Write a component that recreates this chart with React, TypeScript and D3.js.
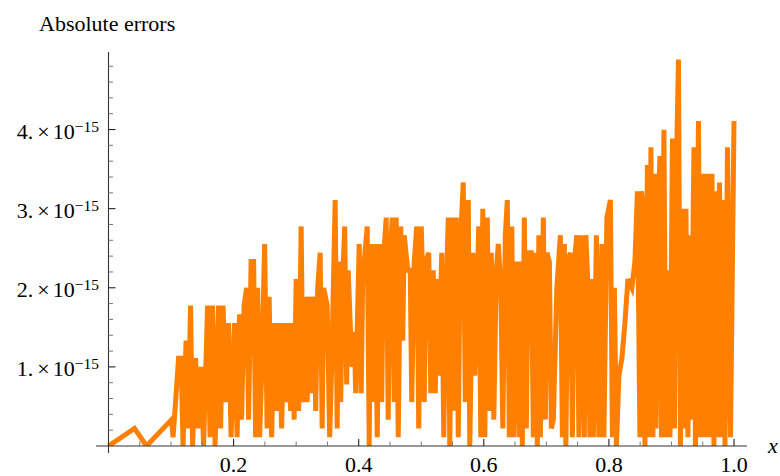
import React from "react";
import * as d3 from "d3";

// Sample abscissae of the adaptive plot
const sampleX = [
  0, 0.0416, 0.0608, 0.1008, 0.1032, 0.1072, 0.112, 0.116,
  0.1192, 0.124, 0.1272, 0.1312, 0.1344, 0.1392, 0.1432, 0.148,
  0.152, 0.1584, 0.1624, 0.1664, 0.1704, 0.176, 0.1792, 0.1832,
  0.1872, 0.192, 0.196, 0.2016, 0.2056, 0.2096, 0.2128, 0.2168,
  0.2208, 0.224, 0.228, 0.232, 0.2352, 0.2384, 0.2416, 0.2448,
  0.2496, 0.2536, 0.2568, 0.2608, 0.2648, 0.2688, 0.2728, 0.2768,
  0.2808, 0.284, 0.288, 0.2912, 0.2944, 0.2968, 0.3, 0.304,
  0.308, 0.3112, 0.3144, 0.3176, 0.3216, 0.3248, 0.3288, 0.3312,
  0.3344, 0.3384, 0.3416, 0.344, 0.3496, 0.3536, 0.3568, 0.3624,
  0.3656, 0.368, 0.3712, 0.3744, 0.3776, 0.3808, 0.3832, 0.3864,
  0.3896, 0.3928, 0.3952, 0.4008, 0.404, 0.4064, 0.4136, 0.4168,
  0.4192, 0.4224, 0.4264, 0.4296, 0.4336, 0.4368, 0.4392, 0.444,
  0.4472, 0.4496, 0.4536, 0.4568, 0.46, 0.4632, 0.4672, 0.4704,
  0.4728, 0.4784, 0.4824, 0.4848, 0.4888, 0.4928, 0.496, 0.5,
  0.5024, 0.5048, 0.5072, 0.512, 0.5152, 0.5192, 0.5224, 0.5256,
  0.528, 0.5328, 0.536, 0.5392, 0.5432, 0.5456, 0.5496, 0.5528,
  0.556, 0.5592, 0.5624, 0.5672, 0.5704, 0.5752, 0.5776, 0.5824,
  0.5856, 0.588, 0.592, 0.5952, 0.5984, 0.6016, 0.6056, 0.6088,
  0.612, 0.616, 0.62, 0.6232, 0.6272, 0.6304, 0.6344, 0.6376,
  0.6408, 0.6448, 0.648, 0.6528, 0.6568, 0.6592, 0.6616, 0.6648,
  0.668, 0.6712, 0.676, 0.6792, 0.6824, 0.6856, 0.688, 0.6904,
  0.6952, 0.6984, 0.7008, 0.7048, 0.708, 0.7112, 0.7168, 0.7224,
  0.7256, 0.7288, 0.7312, 0.7344, 0.7384, 0.7416, 0.7448, 0.7488,
  0.752, 0.7568, 0.7608, 0.7632, 0.7672, 0.7696, 0.7728, 0.7752,
  0.78, 0.784, 0.7888, 0.792, 0.7968, 0.8024, 0.8056, 0.8088,
  0.812, 0.816, 0.8208, 0.8256, 0.8304, 0.8368, 0.8416, 0.8456,
  0.8496, 0.852, 0.8552, 0.8576, 0.8616, 0.8648, 0.8672, 0.8704,
  0.8728, 0.8752, 0.8784, 0.8816, 0.884, 0.888, 0.8912, 0.8944,
  0.8976, 0.9016, 0.9048, 0.9072, 0.9112, 0.9144, 0.9176, 0.9208,
  0.9232, 0.9264, 0.9288, 0.9312, 0.9328, 0.936, 0.9384, 0.9432,
  0.9464, 0.9504, 0.9536, 0.9576, 0.9608, 0.9648, 0.968, 0.9704,
  0.9728, 0.9768, 0.98, 0.9832, 0.9856, 0.9896, 0.9944, 1.0,
];

// Absolute error at each sample, in units of 2^-53
const errorUlps = [
  0, 2, 0, 3, 1, 5, 10, 10,
  0, 12, 2, 16, 0, 10, 2, 9,
  0, 16, 1, 16, 0, 16, 2, 16,
  5, 14, 1, 14, 1, 15, 3, 16,
  18, 3, 21, 21, 1, 18, 1, 8,
  23, 2, 17, 1, 14, 4, 14, 2,
  14, 5, 14, 4, 14, 3, 19, 4,
  25, 5, 17, 5, 17, 6, 17, 4,
  18, 22, 2, 18, 16, 1, 9, 28,
  2, 21, 5, 19, 25, 7, 20, 14,
  9, 13, 6, 23, 6, 19, 25, 0,
  23, 5, 23, 1, 23, 5, 21, 26,
  3, 20, 26, 5, 26, 1, 25, 12,
  24, 20, 20, 5, 21, 25, 2, 25,
  19, 5, 21, 22, 6, 20, 6, 19,
  8, 22, 1, 16, 26, 0, 26, 4,
  26, 1, 23, 30, 5, 28, 0, 22,
  8, 15, 25, 1, 27, 1, 26, 4,
  22, 3, 20, 23, 18, 2, 24, 28,
  1, 25, 1, 21, 1, 21, 0, 26,
  2, 22, 22, 1, 22, 0, 24, 1,
  26, 3, 22, 21, 2, 3, 18, 24,
  1, 23, 0, 21, 22, 1, 21, 24,
  1, 24, 1, 24, 17, 1, 19, 1,
  24, 1, 23, 1, 26, 28, 1, 18,
  0, 8, 10, 14, 19, 18, 21, 29,
  1, 29, 27, 0, 32, 1, 34, 1,
  31, 2, 26, 33, 1, 36, 1, 20,
  1, 35, 2, 29, 44, 0, 27, 2,
  27, 1, 24, 3, 14, 34, 0, 37,
  1, 31, 1, 31, 1, 31, 0, 29,
  1, 30, 1, 28, 0, 34, 1, 37,
];

const ULP = Math.pow(2, -53);

const xTickValues = [0.2, 0.4, 0.6, 0.8, 1.0];
const xTickLabels = ["0.2", "0.4", "0.6", "0.8", "1.0"];
const yTickValues = [1e-15, 2e-15, 3e-15, 4e-15];
const yTickMantissas = ["1.", "2.", "3.", "4."];

const FONT = '"Liberation Serif", "Times New Roman", Times, serif';

export default function App() {
  const width = 780;
  const height = 476;

  const x = d3.scaleLinear().domain([0, 1]).range([108.5, 734]);
  const y = d3.scaleLinear().domain([0, 4.98e-15]).range([446, 52]);

  const points: [number, number][] = sampleX.map((v, i) => [v, errorUlps[i] * ULP]);
  const linePath = d3
    .line<[number, number]>()
    .x((d) => x(d[0]))
    .y((d) => y(d[1]))(points) as string;

  const x0 = x(0);
  const y0 = y(0);

  const xMinor = d3.range(1, 21).filter((i) => i % 4 !== 0).map((i) => i * 0.05);
  const yMinor = d3.range(1, 25).filter((i) => i % 5 !== 0).map((i) => i * 0.2e-15);

  const textStyle = { fontFamily: FONT };

  return (
    <svg
      width={width}
      height={height}
      style={{ position: "absolute", left: 0, top: 0, background: "#fff" }}
    >
      <defs>
        <clipPath id="plot-clip">
          <rect x={0} y={0} width={width} height={y0} />
        </clipPath>
      </defs>

      {/* error curve */}
      <path
        d={linePath}
        fill="none"
        stroke="#ff8000"
        strokeWidth={5}
        strokeLinejoin="miter"
        clipPath="url(#plot-clip)"
      />

      {/* axes */}
      <line x1={96} x2={747} y1={y0} y2={y0} stroke="#333" strokeWidth={1.1} />
      <line x1={x0} x2={x0} y1={52} y2={453} stroke="#333" strokeWidth={1.1} />

      {/* x ticks */}
      {xMinor.map((v) => (
        <line key={"xm" + v} x1={x(v)} x2={x(v)} y1={y0} y2={y0 - 4.5} stroke="#777" strokeWidth={1} />
      ))}
      {xTickValues.map((v) => (
        <line key={"xM" + v} x1={x(v)} x2={x(v)} y1={y0} y2={y0 - 7} stroke="#222" strokeWidth={1.1} />
      ))}
      {xTickValues.map((v, i) => (
        <text key={"xl" + v} x={x(v)} y={472} textAnchor="middle" fontSize={22} fill="#000" style={textStyle}>
          {xTickLabels[i]}
        </text>
      ))}

      {/* y ticks */}
      {yMinor.map((v) => (
        <line key={"ym" + v} x1={x0} x2={x0 + 4.5} y1={y(v)} y2={y(v)} stroke="#777" strokeWidth={1} />
      ))}
      {yTickValues.map((v) => (
        <line key={"yM" + v} x1={x0} x2={x0 + 7} y1={y(v)} y2={y(v)} stroke="#222" strokeWidth={1.1} />
      ))}
      {yTickValues.map((v, i) => (
        <text key={"yl" + v} x={99} y={y(v) + 9.5} textAnchor="end" fontSize={22} fill="#000" style={textStyle}>
          <tspan>{yTickMantissas[i]}</tspan>
          <tspan dx={4}>×</tspan>
          <tspan dx={3}>10</tspan>
          <tspan fontSize={15.5} dy={-7.5}>−15</tspan>
        </text>
      ))}

      {/* axis labels */}
      <text x={768} y={453} fontSize={22} fontStyle="italic" fill="#000" style={textStyle}>
        x
      </text>
      <text x={39} y={30.7} fontSize={22} fill="#000" style={textStyle}>
        Absolute errors
      </text>
    </svg>
  );
}
